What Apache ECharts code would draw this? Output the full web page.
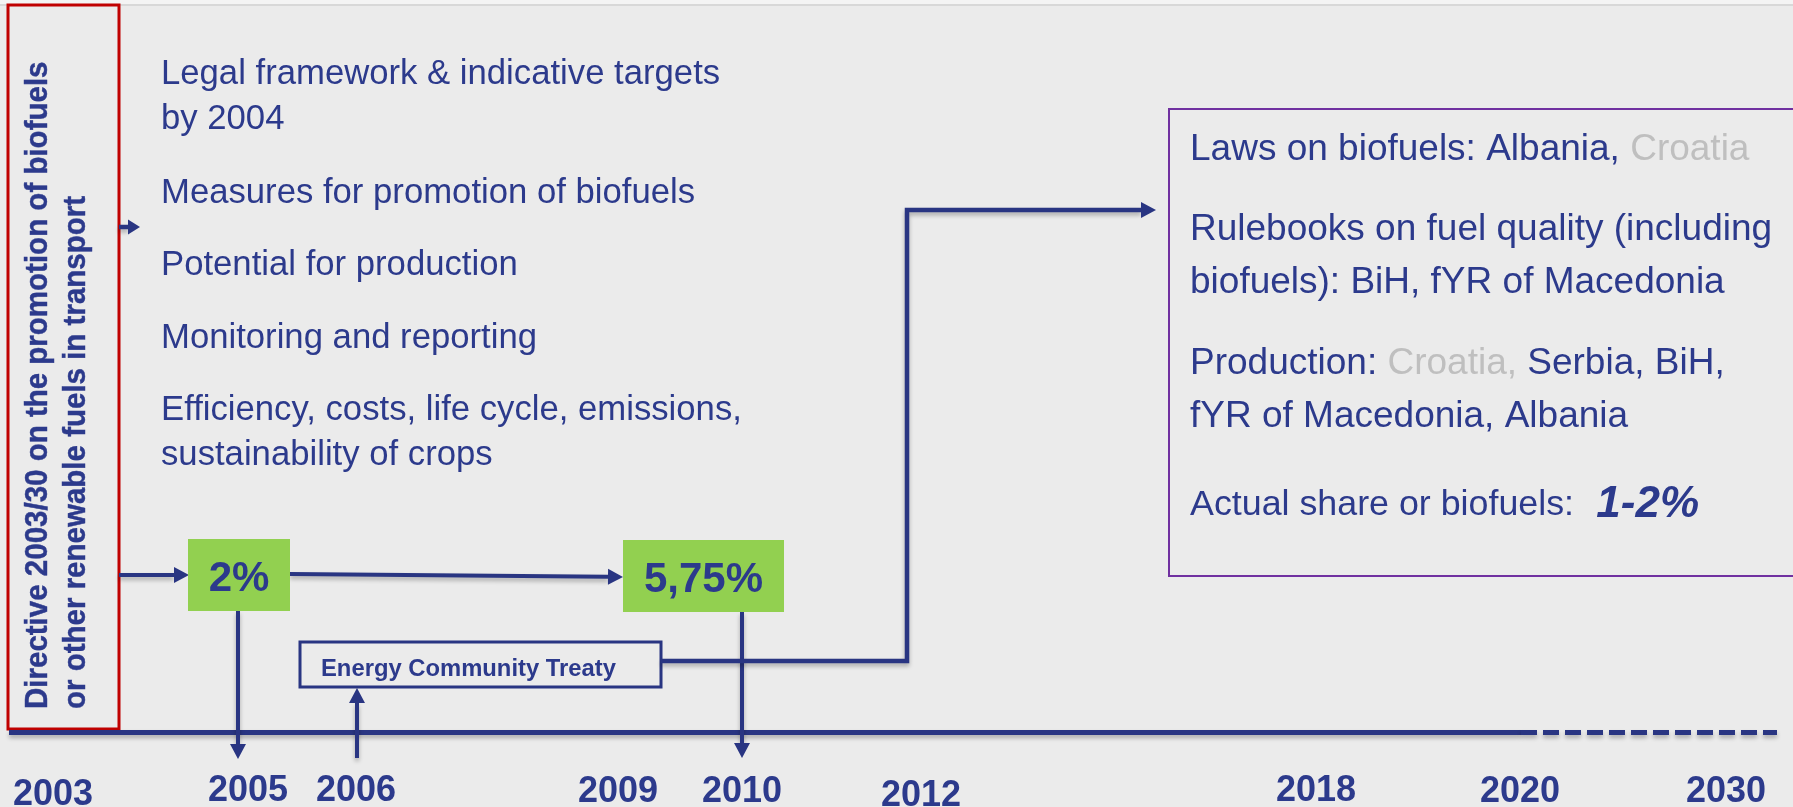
<!DOCTYPE html>
<html>
<head>
<meta charset="utf-8">
<style>
  html, body { margin: 0; padding: 0; background: #ebebeb; }
  #chart { width: 1793px; height: 807px; }
</style>
<script src="https://cdn.jsdelivr.net/npm/echarts@6/dist/echarts.min.js"></script>
</head>
<body>
<div id="chart"></div>
<script>
// ---- content ----
const years = ['2003', '2005', '2006', '2009', '2010', '2012', '2018', '2020', '2030']
const targets = ['2%', '5,75%']
const directive = ['Directive 2003/30 on the promotion of biofuels', 'or other renewable fuels in transport']
const topics = [
  'Legal framework & indicative targets',
  'by 2004',
  'Measures for promotion of biofuels',
  'Potential for production',
  'Monitoring and reporting',
  'Efficiency, costs, life cycle, emissions,',
  'sustainability of crops',
]
const treaty = 'Energy Community Treaty'
const actualShare = '1-2%'
const results = [
  'Laws on biofuels: Albania, {g|Croatia}',
  'Rulebooks on fuel quality (including',
  'biofuels): BiH, fYR of Macedonia',
  'Production: {g|Croatia,} Serbia, BiH,',
  'fYR of Macedonia, Albania',
  '{s|Actual share or biofuels:} {b|' + actualShare + '}',
]

// ---- layout (pixel units of the hidden axes) ----
const W = 1793, H = 807
const yearX = [53, 248, 356, 618, 742, 921, 1316, 1520, 1726]
const yearY = [795, 791, 791, 792, 792, 796, 791, 792, 792]
const targetBoxes = [[188, 539, 290, 611], [623, 540, 784, 612]]
const topicY = [74.5, 119.5, 193.5, 265.5, 338.5, 410.5, 455.5]
const resultY = [150, 230, 283, 364, 417, 505]
const directiveX = [38, 76.5]
const arrows = [
  { pts: [[119, 227], [140, 227]], head: [12, 15], w: 4.5 },
  { pts: [[119, 575], [189, 575]], head: [15, 16], w: 4 },
  { pts: [[290, 574], [623, 577]], head: [15, 16], w: 4 },
  { pts: [[238, 611], [238, 759]], head: [15, 16], w: 4 },
  { pts: [[357, 758], [357, 688]], head: [15, 16], w: 4 },
  { pts: [[742, 612], [742, 758]], head: [15, 16], w: 4 },
  { pts: [[661, 661], [907, 661], [907, 210], [1156, 210]], head: [15, 16], w: 4.5 },
]

const NAVY = '#2c3a8c'
const LINE = '#293582'
const FONT = '"Liberation Sans", Arial, sans-serif'
const SHADOW = { shadowColor: 'rgba(0,0,0,0.28)', shadowBlur: 4, shadowOffsetY: 3 }

const chart = echarts.init(document.getElementById('chart'))

function rect(api, x0, y0, x1, y1, style) {
  const a = api.coord([x0, y0]), b = api.coord([x1, y1])
  return { type: 'rect', shape: { x: a[0], y: a[1], width: b[0] - a[0], height: b[1] - a[1] }, style }
}

function arrow(api, a) {
  const p = a.pts.map(q => api.coord(q))
  const s = p[p.length - 2], e = p[p.length - 1]
  const len = Math.hypot(e[0] - s[0], e[1] - s[1])
  const ux = (e[0] - s[0]) / len, uy = (e[1] - s[1]) / len
  const base = [e[0] - ux * a.head[0], e[1] - uy * a.head[0]]
  const hw = a.head[1] / 2
  return {
    type: 'group',
    children: [
      { type: 'polyline', shape: { points: p.slice(0, -1).concat([base]) },
        style: Object.assign({ stroke: LINE, lineWidth: a.w, fill: null, lineJoin: 'miter' }, SHADOW) },
      { type: 'polygon', shape: { points: [e, [base[0] - uy * hw, base[1] + ux * hw], [base[0] + uy * hw, base[1] - ux * hw]] },
        style: { fill: LINE } },
    ],
  }
}

const option = {
  backgroundColor: '#ebebeb',
  animation: false,
  grid: { left: 0, right: 0, top: 0, bottom: 0 },
  xAxis: { type: 'value', min: 0, max: W, show: false },
  yAxis: { type: 'value', min: 0, max: H, inverse: true, show: false },
  series: [
    // frame, boxes and timeline
    {
      type: 'custom', silent: true, data: [0],
      renderItem: (params, api) => {
        const a = api.coord([9, 732.5]), m = api.coord([1521, 732.5]), b = api.coord([1777, 732.5])
        const children = [
          rect(api, 0, 0, W, 4, { fill: '#f4f4f4' }),
          rect(api, 0, 4, W, 6, { fill: '#d8d8d8' }),
          rect(api, 8, 5, 119, 729, { fill: null, stroke: '#c00000', lineWidth: 3 }),
          rect(api, 300, 642, 661, 687, { fill: null, stroke: LINE, lineWidth: 3 }),
          rect(api, 1169, 109, 1800, 576, { fill: null, stroke: '#7030a0', lineWidth: 2 }),
          { type: 'line', shape: { x1: a[0], y1: a[1], x2: m[0], y2: m[1] },
            style: Object.assign({ stroke: LINE, lineWidth: 5 }, SHADOW) },
          { type: 'line', shape: { x1: m[0], y1: m[1], x2: b[0], y2: b[1] },
            style: Object.assign({ stroke: LINE, lineWidth: 5, lineDash: [16, 6] }, SHADOW) },
        ]
        return { type: 'group', children }
      },
    },
    // arrows
    {
      type: 'custom', silent: true, data: arrows.map((_, i) => i),
      renderItem: (params, api) => arrow(api, arrows[params.dataIndex]),
    },
    // target boxes
    {
      type: 'custom', silent: true, data: targets.map((_, i) => i),
      renderItem: (params, api) => {
        const r = targetBoxes[params.dataIndex]
        const c = api.coord([(r[0] + r[2]) / 2, (r[1] + r[3]) / 2 + 4])
        return {
          type: 'group',
          children: [
            rect(api, r[0], r[1], r[2], r[3], { fill: '#92d050' }),
            { type: 'text', x: c[0], y: c[1],
              style: { text: targets[params.dataIndex], fill: NAVY, font: 'bold 42px ' + FONT, align: 'center', verticalAlign: 'middle' } },
          ],
        }
      },
    },
    // directive (rotated)
    {
      type: 'custom', silent: true, data: directive.map((_, i) => i),
      renderItem: (params, api) => {
        const p = api.coord([directiveX[params.dataIndex], 709])
        return { type: 'text', x: p[0], y: p[1], rotation: Math.PI / 2, scaleY: 1.06,
          style: { text: directive[params.dataIndex], fill: NAVY, font: 'bold 29.5px ' + FONT, align: 'left', verticalAlign: 'middle',
            stroke: NAVY, lineWidth: 0.4 } }
      },
    },
    // topics
    {
      type: 'custom', silent: true, data: topics.map((_, i) => i),
      renderItem: (params, api) => {
        const p = api.coord([161, topicY[params.dataIndex]])
        return { type: 'text', x: p[0], y: p[1],
          style: { text: topics[params.dataIndex], fill: NAVY, font: '34.7px ' + FONT, align: 'left', verticalAlign: 'middle' } }
      },
    },
    // results box
    {
      type: 'custom', silent: true, data: results.map((_, i) => i),
      renderItem: (params, api) => {
        const p = api.coord([1190, resultY[params.dataIndex]])
        return { type: 'text', x: p[0], y: p[1],
          style: {
            text: results[params.dataIndex], fill: NAVY, font: '37px ' + FONT, align: 'left', verticalAlign: 'middle',
            rich: {
              g: { fill: '#bfbfbf', font: '37px ' + FONT },
              s: { fill: NAVY, font: '35.8px ' + FONT },
              b: { fill: NAVY, font: 'italic bold 44px ' + FONT, padding: [0, 0, 0, 12] },
            },
          } }
      },
    },
    // treaty label
    {
      type: 'custom', silent: true, data: [0],
      renderItem: (params, api) => {
        const p = api.coord([321, 669])
        return { type: 'text', x: p[0], y: p[1],
          style: { text: treaty, fill: NAVY, font: 'bold 23.8px ' + FONT, align: 'left', verticalAlign: 'middle' } }
      },
    },
    // year labels
    {
      type: 'custom', silent: true, data: years.map((_, i) => i),
      renderItem: (params, api) => {
        const i = params.dataIndex
        const p = api.coord([yearX[i], yearY[i]])
        return { type: 'text', x: p[0], y: p[1],
          style: { text: years[i], fill: NAVY, font: 'bold 36px ' + FONT, align: 'center', verticalAlign: 'middle' } }
      },
    },
  ],
}

chart.setOption(option)
</script>
</body>
</html>
